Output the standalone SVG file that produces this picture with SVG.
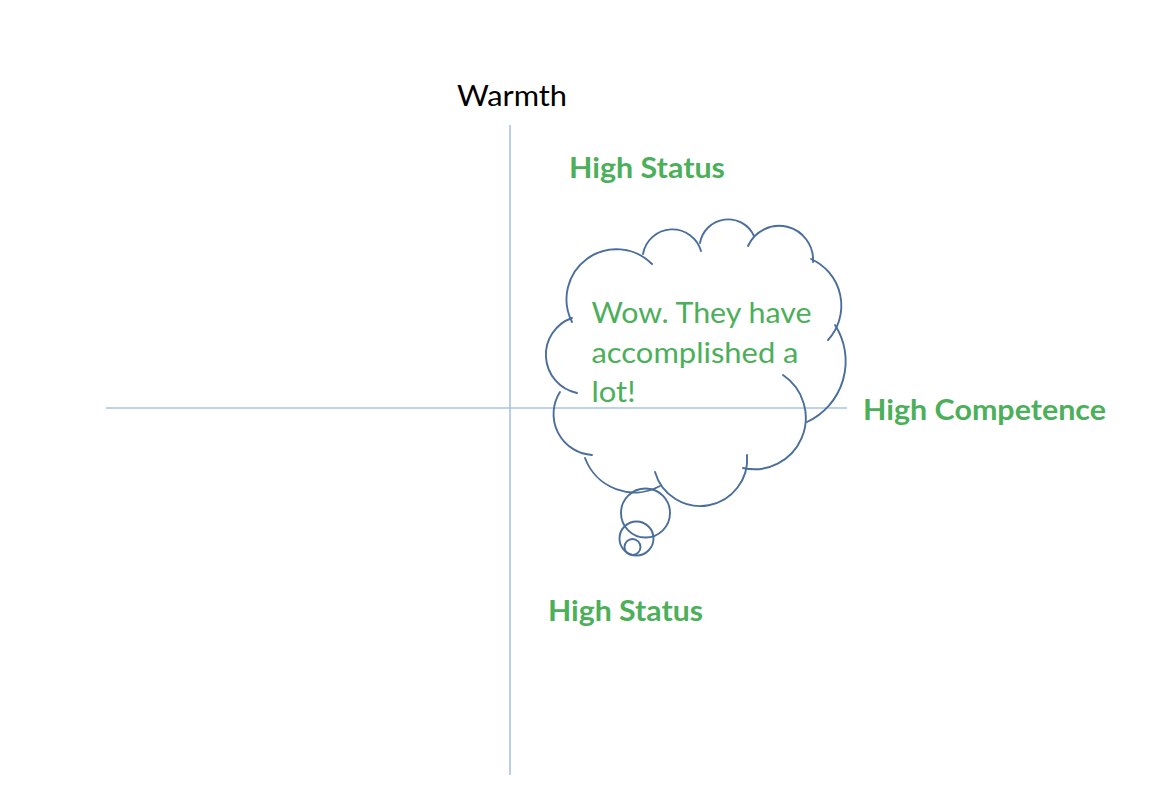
<svg xmlns="http://www.w3.org/2000/svg" width="1164" height="802" viewBox="0 0 1164 802">
  <style>
    .axis { stroke: #A7C3E6; stroke-width: 1.6; fill: none; }
    .cloud { stroke: #4A6E9C; stroke-width: 1.9; fill: none; stroke-linecap: round; }
    .lbl { font-family: Lato, "Liberation Sans", sans-serif; font-weight: 700; font-size: 28.5px; fill: #4CAF5A; }
    .say { font-family: Lato, "Liberation Sans", sans-serif; font-size: 29.5px; fill: #4CAF5A; }
    .ttl { font-family: Lato, "Liberation Sans", sans-serif; font-size: 29.5px; fill: #000000; }
  </style>
  <rect x="0" y="0" width="1164" height="802" fill="#FFFFFF"/>
  <g id="connectors">
    <line class="axis" x1="510" y1="125" x2="510" y2="775"/>
    <line class="axis" x1="106" y1="408" x2="847" y2="408"/>
  </g>
  <g id="node-warmth">
    <text class="ttl" x="457" y="106" textLength="110" lengthAdjust="spacingAndGlyphs">Warmth</text>
  </g>
  <g id="node-high-status-top">
    <text class="lbl" x="569" y="178" textLength="156" lengthAdjust="spacingAndGlyphs">High Status</text>
  </g>
  <g id="node-high-competence">
    <text class="lbl" x="863" y="419.5" textLength="243" lengthAdjust="spacingAndGlyphs">High Competence</text>
  </g>
  <g id="node-high-status-bottom">
    <text class="lbl" x="548" y="620.5" textLength="155" lengthAdjust="spacingAndGlyphs">High Status</text>
  </g>
  <g id="node-thought-cloud">
    <path class="cloud" d="M572,322 A50,50 0 0 1 652,264"/>
    <path class="cloud" d="M643,254 A29.8,29.8 0 0 1 701,251"/>
    <path class="cloud" d="M700,243 A28.5,28.5 0 0 1 754,236"/>
    <path class="cloud" d="M748,246 A34,34 0 0 1 813,262"/>
    <path class="cloud" d="M811,259 A51,51 0 0 1 828,340"/>
    <path class="cloud" d="M835,325 A67,67 0 0 1 807,422"/>
    <path class="cloud" d="M783,375 A51.5,51.5 0 0 1 743,468"/>
    <path class="cloud" d="M747,455 A47,47 0 0 1 655,472"/>
    <path class="cloud" d="M660,486 A53,53 0 0 1 585,458"/>
    <path class="cloud" d="M592,455 A41,41 0 0 1 560,392"/>
    <path class="cloud" d="M577,393 A39,39 0 0 1 572,318"/>
    <circle class="cloud" cx="645.5" cy="513" r="24.5"/>
    <circle class="cloud" cx="636.5" cy="538.5" r="17"/>
    <circle class="cloud" cx="632.5" cy="547" r="8"/>
    <text class="say" x="591.5" y="322.7" textLength="220" lengthAdjust="spacingAndGlyphs">Wow. They have</text>
    <text class="say" x="591.5" y="362.5" textLength="207" lengthAdjust="spacingAndGlyphs">accomplished a</text>
    <text class="say" x="591.5" y="401.7" textLength="44" lengthAdjust="spacingAndGlyphs">lot!</text>
  </g>
</svg>
